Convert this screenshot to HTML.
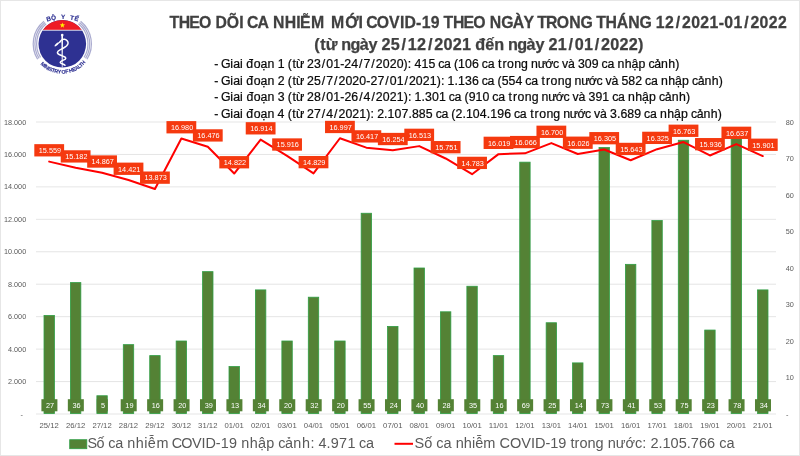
<!DOCTYPE html>
<html lang="vi"><head><meta charset="utf-8"><title>Theo dõi ca nhiễm mới COVID-19</title>
<style>html,body{margin:0;padding:0;background:#fff;}body{width:800px;height:456px;overflow:hidden;}svg{display:block;}text{font-family:"Liberation Sans", sans-serif;}</style></head><body>
<svg width="800" height="456" viewBox="0 0 800 456">
<rect x="0" y="0" width="800" height="456" fill="#fff"/>
<path d="M0,0H800V456H0Z M1,1V455H799V1Z" fill="#e6e6e6" fill-rule="evenodd"/>
<g stroke="#dedede" stroke-width="0.8">
<line x1="36.0" y1="414.00" x2="776.0" y2="414.00"/>
<line x1="36.0" y1="381.56" x2="776.0" y2="381.56"/>
<line x1="36.0" y1="349.11" x2="776.0" y2="349.11"/>
<line x1="36.0" y1="316.67" x2="776.0" y2="316.67"/>
<line x1="36.0" y1="284.22" x2="776.0" y2="284.22"/>
<line x1="36.0" y1="251.78" x2="776.0" y2="251.78"/>
<line x1="36.0" y1="219.33" x2="776.0" y2="219.33"/>
<line x1="36.0" y1="186.89" x2="776.0" y2="186.89"/>
<line x1="36.0" y1="154.44" x2="776.0" y2="154.44"/>
<line x1="36.0" y1="122.00" x2="776.0" y2="122.00"/>
</g>
<g font-size="7.3" fill="#5a5a5a" text-anchor="end">
<text x="26.2" y="384.16" textLength="18.2" lengthAdjust="spacingAndGlyphs">2.000</text>
<text x="26.2" y="351.71" textLength="18.2" lengthAdjust="spacingAndGlyphs">4.000</text>
<text x="26.2" y="319.27" textLength="18.2" lengthAdjust="spacingAndGlyphs">6.000</text>
<text x="26.2" y="286.82" textLength="18.2" lengthAdjust="spacingAndGlyphs">8.000</text>
<text x="26.2" y="254.38" textLength="22.2" lengthAdjust="spacingAndGlyphs">10.000</text>
<text x="26.2" y="221.93" textLength="22.2" lengthAdjust="spacingAndGlyphs">12.000</text>
<text x="26.2" y="189.49" textLength="22.2" lengthAdjust="spacingAndGlyphs">14.000</text>
<text x="26.2" y="157.04" textLength="22.2" lengthAdjust="spacingAndGlyphs">16.000</text>
<text x="26.2" y="124.60" textLength="22.2" lengthAdjust="spacingAndGlyphs">18.000</text>
<text x="23" y="416.70">-</text>
</g>
<g font-size="7.3" fill="#5a5a5a" text-anchor="start">
<text x="785.7" y="380.10">10</text>
<text x="785.7" y="343.60">20</text>
<text x="785.7" y="307.10">30</text>
<text x="785.7" y="270.60">40</text>
<text x="785.7" y="234.10">50</text>
<text x="785.7" y="197.60">60</text>
<text x="785.7" y="161.10">70</text>
<text x="785.7" y="124.60">80</text>
<text x="786" y="416.70">-</text>
</g>
<g fill="#548235" stroke="#2f9e44" stroke-width="0.8">
<rect x="44.01" y="315.45" width="10.40" height="98.05"/>
<rect x="70.44" y="282.60" width="10.40" height="130.90"/>
<rect x="96.87" y="395.75" width="10.40" height="17.75"/>
<rect x="123.30" y="344.65" width="10.40" height="68.85"/>
<rect x="149.73" y="355.60" width="10.40" height="57.90"/>
<rect x="176.16" y="341.00" width="10.40" height="72.50"/>
<rect x="202.59" y="271.65" width="10.40" height="141.85"/>
<rect x="229.01" y="366.55" width="10.40" height="46.95"/>
<rect x="255.44" y="289.90" width="10.40" height="123.60"/>
<rect x="281.87" y="341.00" width="10.40" height="72.50"/>
<rect x="308.30" y="297.20" width="10.40" height="116.30"/>
<rect x="334.73" y="341.00" width="10.40" height="72.50"/>
<rect x="361.16" y="213.25" width="10.40" height="200.25"/>
<rect x="387.59" y="326.40" width="10.40" height="87.10"/>
<rect x="414.01" y="268.00" width="10.40" height="145.50"/>
<rect x="440.44" y="311.80" width="10.40" height="101.70"/>
<rect x="466.87" y="286.25" width="10.40" height="127.25"/>
<rect x="493.30" y="355.60" width="10.40" height="57.90"/>
<rect x="519.73" y="162.15" width="10.40" height="251.35"/>
<rect x="546.16" y="322.75" width="10.40" height="90.75"/>
<rect x="572.59" y="362.90" width="10.40" height="50.60"/>
<rect x="599.01" y="147.55" width="10.40" height="265.95"/>
<rect x="625.44" y="264.35" width="10.40" height="149.15"/>
<rect x="651.87" y="220.55" width="10.40" height="192.95"/>
<rect x="678.30" y="140.25" width="10.40" height="273.25"/>
<rect x="704.73" y="330.05" width="10.40" height="83.45"/>
<rect x="731.16" y="129.30" width="10.40" height="284.20"/>
<rect x="757.59" y="289.90" width="10.40" height="123.60"/>
</g>
<g>
<rect x="41.41" y="399.2" width="16.0" height="12.1" fill="#548235"/>
<rect x="67.84" y="399.2" width="16.0" height="12.1" fill="#548235"/>
<rect x="96.77" y="399.2" width="11.0" height="12.1" fill="#548235"/>
<rect x="120.70" y="399.2" width="16.0" height="12.1" fill="#548235"/>
<rect x="147.13" y="399.2" width="16.0" height="12.1" fill="#548235"/>
<rect x="173.56" y="399.2" width="16.0" height="12.1" fill="#548235"/>
<rect x="199.99" y="399.2" width="16.0" height="12.1" fill="#548235"/>
<rect x="226.41" y="399.2" width="16.0" height="12.1" fill="#548235"/>
<rect x="252.84" y="399.2" width="16.0" height="12.1" fill="#548235"/>
<rect x="279.27" y="399.2" width="16.0" height="12.1" fill="#548235"/>
<rect x="305.70" y="399.2" width="16.0" height="12.1" fill="#548235"/>
<rect x="332.13" y="399.2" width="16.0" height="12.1" fill="#548235"/>
<rect x="358.56" y="399.2" width="16.0" height="12.1" fill="#548235"/>
<rect x="384.99" y="399.2" width="16.0" height="12.1" fill="#548235"/>
<rect x="411.41" y="399.2" width="16.0" height="12.1" fill="#548235"/>
<rect x="437.84" y="399.2" width="16.0" height="12.1" fill="#548235"/>
<rect x="464.27" y="399.2" width="16.0" height="12.1" fill="#548235"/>
<rect x="490.70" y="399.2" width="16.0" height="12.1" fill="#548235"/>
<rect x="517.13" y="399.2" width="16.0" height="12.1" fill="#548235"/>
<rect x="543.56" y="399.2" width="16.0" height="12.1" fill="#548235"/>
<rect x="569.99" y="399.2" width="16.0" height="12.1" fill="#548235"/>
<rect x="596.41" y="399.2" width="16.0" height="12.1" fill="#548235"/>
<rect x="622.84" y="399.2" width="16.0" height="12.1" fill="#548235"/>
<rect x="649.27" y="399.2" width="16.0" height="12.1" fill="#548235"/>
<rect x="675.70" y="399.2" width="16.0" height="12.1" fill="#548235"/>
<rect x="702.13" y="399.2" width="16.0" height="12.1" fill="#548235"/>
<rect x="728.56" y="399.2" width="16.0" height="12.1" fill="#548235"/>
<rect x="754.99" y="399.2" width="16.0" height="12.1" fill="#548235"/>
</g>
<g font-size="7.3" fill="#ffffff" text-anchor="middle">
<text x="50.11" y="408.2">27</text>
<text x="76.54" y="408.2">36</text>
<text x="102.97" y="408.2">5</text>
<text x="129.40" y="408.2">19</text>
<text x="155.83" y="408.2">16</text>
<text x="182.26" y="408.2">20</text>
<text x="208.69" y="408.2">39</text>
<text x="235.11" y="408.2">13</text>
<text x="261.54" y="408.2">34</text>
<text x="287.97" y="408.2">20</text>
<text x="314.40" y="408.2">32</text>
<text x="340.83" y="408.2">20</text>
<text x="367.26" y="408.2">55</text>
<text x="393.69" y="408.2">24</text>
<text x="420.11" y="408.2">40</text>
<text x="446.54" y="408.2">28</text>
<text x="472.97" y="408.2">35</text>
<text x="499.40" y="408.2">16</text>
<text x="525.83" y="408.2">69</text>
<text x="552.26" y="408.2">25</text>
<text x="578.69" y="408.2">14</text>
<text x="605.11" y="408.2">73</text>
<text x="631.54" y="408.2">41</text>
<text x="657.97" y="408.2">53</text>
<text x="684.40" y="408.2">75</text>
<text x="710.83" y="408.2">23</text>
<text x="737.26" y="408.2">78</text>
<text x="763.69" y="408.2">34</text>
</g>
<g font-size="7.6" fill="#5a5a5a" text-anchor="middle">
<text x="49.21" y="427.7" textLength="19.3" lengthAdjust="spacingAndGlyphs">25/12</text>
<text x="75.64" y="427.7" textLength="19.3" lengthAdjust="spacingAndGlyphs">26/12</text>
<text x="102.07" y="427.7" textLength="19.3" lengthAdjust="spacingAndGlyphs">27/12</text>
<text x="128.50" y="427.7" textLength="19.3" lengthAdjust="spacingAndGlyphs">28/12</text>
<text x="154.93" y="427.7" textLength="19.3" lengthAdjust="spacingAndGlyphs">29/12</text>
<text x="181.36" y="427.7" textLength="19.3" lengthAdjust="spacingAndGlyphs">30/12</text>
<text x="207.79" y="427.7" textLength="19.3" lengthAdjust="spacingAndGlyphs">31/12</text>
<text x="234.21" y="427.7" textLength="19.3" lengthAdjust="spacingAndGlyphs">01/01</text>
<text x="260.64" y="427.7" textLength="19.3" lengthAdjust="spacingAndGlyphs">02/01</text>
<text x="287.07" y="427.7" textLength="19.3" lengthAdjust="spacingAndGlyphs">03/01</text>
<text x="313.50" y="427.7" textLength="19.3" lengthAdjust="spacingAndGlyphs">04/01</text>
<text x="339.93" y="427.7" textLength="19.3" lengthAdjust="spacingAndGlyphs">05/01</text>
<text x="366.36" y="427.7" textLength="19.3" lengthAdjust="spacingAndGlyphs">06/01</text>
<text x="392.79" y="427.7" textLength="19.3" lengthAdjust="spacingAndGlyphs">07/01</text>
<text x="419.21" y="427.7" textLength="19.3" lengthAdjust="spacingAndGlyphs">08/01</text>
<text x="445.64" y="427.7" textLength="19.3" lengthAdjust="spacingAndGlyphs">09/01</text>
<text x="472.07" y="427.7" textLength="19.3" lengthAdjust="spacingAndGlyphs">10/01</text>
<text x="498.50" y="427.7" textLength="19.3" lengthAdjust="spacingAndGlyphs">11/01</text>
<text x="524.93" y="427.7" textLength="19.3" lengthAdjust="spacingAndGlyphs">12/01</text>
<text x="551.36" y="427.7" textLength="19.3" lengthAdjust="spacingAndGlyphs">13/01</text>
<text x="577.79" y="427.7" textLength="19.3" lengthAdjust="spacingAndGlyphs">14/01</text>
<text x="604.21" y="427.7" textLength="19.3" lengthAdjust="spacingAndGlyphs">15/01</text>
<text x="630.64" y="427.7" textLength="19.3" lengthAdjust="spacingAndGlyphs">16/01</text>
<text x="657.07" y="427.7" textLength="19.3" lengthAdjust="spacingAndGlyphs">17/01</text>
<text x="683.50" y="427.7" textLength="19.3" lengthAdjust="spacingAndGlyphs">18/01</text>
<text x="709.93" y="427.7" textLength="19.3" lengthAdjust="spacingAndGlyphs">19/01</text>
<text x="736.36" y="427.7" textLength="19.3" lengthAdjust="spacingAndGlyphs">20/01</text>
<text x="762.79" y="427.7" textLength="19.3" lengthAdjust="spacingAndGlyphs">21/01</text>
</g>
<polyline points="49.21,161.60 75.64,167.71 102.07,172.82 128.50,180.06 154.93,188.95 181.36,138.55 207.79,146.72 234.21,173.55 260.64,139.62 287.07,155.81 313.50,173.44 339.93,138.27 366.36,147.68 392.79,150.32 419.21,146.12 445.64,158.48 472.07,174.19 498.50,154.14 524.93,153.37 551.36,143.09 577.79,154.02 604.21,149.50 630.64,160.24 657.07,149.17 683.50,142.07 709.93,155.48 736.36,144.11 762.79,156.05" fill="none" stroke="#ff0000" stroke-width="2" stroke-linejoin="round" stroke-linecap="round"/>
<rect x="34.31" y="144.15" width="29.8" height="12.3" fill="#f5390f"/>
<text x="49.91" y="153.10" font-size="7.3" fill="#fff" text-anchor="middle">15.559</text>
<rect x="60.74" y="150.26" width="29.8" height="12.3" fill="#f5390f"/>
<text x="76.34" y="159.21" font-size="7.3" fill="#fff" text-anchor="middle">15.182</text>
<rect x="87.17" y="155.37" width="29.8" height="12.3" fill="#f5390f"/>
<text x="102.77" y="164.32" font-size="7.3" fill="#fff" text-anchor="middle">14.867</text>
<rect x="113.60" y="162.61" width="29.8" height="12.3" fill="#f5390f"/>
<text x="129.20" y="171.56" font-size="7.3" fill="#fff" text-anchor="middle">14.421</text>
<rect x="140.03" y="171.50" width="29.8" height="12.3" fill="#f5390f"/>
<text x="155.63" y="180.45" font-size="7.3" fill="#fff" text-anchor="middle">13.873</text>
<rect x="166.46" y="121.10" width="29.8" height="12.3" fill="#f5390f"/>
<text x="182.06" y="130.05" font-size="7.3" fill="#fff" text-anchor="middle">16.980</text>
<rect x="192.89" y="129.27" width="29.8" height="12.3" fill="#f5390f"/>
<text x="208.49" y="138.22" font-size="7.3" fill="#fff" text-anchor="middle">16.476</text>
<rect x="219.31" y="156.10" width="29.8" height="12.3" fill="#f5390f"/>
<text x="234.91" y="165.05" font-size="7.3" fill="#fff" text-anchor="middle">14.822</text>
<rect x="245.74" y="122.17" width="29.8" height="12.3" fill="#f5390f"/>
<text x="261.34" y="131.12" font-size="7.3" fill="#fff" text-anchor="middle">16.914</text>
<rect x="272.17" y="138.36" width="29.8" height="12.3" fill="#f5390f"/>
<text x="287.77" y="147.31" font-size="7.3" fill="#fff" text-anchor="middle">15.916</text>
<rect x="298.60" y="155.99" width="29.8" height="12.3" fill="#f5390f"/>
<text x="314.20" y="164.94" font-size="7.3" fill="#fff" text-anchor="middle">14.829</text>
<rect x="325.03" y="120.82" width="29.8" height="12.3" fill="#f5390f"/>
<text x="340.63" y="129.77" font-size="7.3" fill="#fff" text-anchor="middle">16.997</text>
<rect x="351.46" y="130.23" width="29.8" height="12.3" fill="#f5390f"/>
<text x="367.06" y="139.18" font-size="7.3" fill="#fff" text-anchor="middle">16.417</text>
<rect x="377.89" y="132.87" width="29.8" height="12.3" fill="#f5390f"/>
<text x="393.49" y="141.82" font-size="7.3" fill="#fff" text-anchor="middle">16.254</text>
<rect x="404.31" y="128.67" width="29.8" height="12.3" fill="#f5390f"/>
<text x="419.91" y="137.62" font-size="7.3" fill="#fff" text-anchor="middle">16.513</text>
<rect x="430.74" y="141.03" width="29.8" height="12.3" fill="#f5390f"/>
<text x="446.34" y="149.98" font-size="7.3" fill="#fff" text-anchor="middle">15.751</text>
<rect x="457.17" y="156.74" width="29.8" height="12.3" fill="#f5390f"/>
<text x="472.77" y="165.69" font-size="7.3" fill="#fff" text-anchor="middle">14.783</text>
<rect x="483.60" y="136.69" width="29.8" height="12.3" fill="#f5390f"/>
<text x="499.20" y="145.64" font-size="7.3" fill="#fff" text-anchor="middle">16.019</text>
<rect x="510.03" y="135.92" width="29.8" height="12.3" fill="#f5390f"/>
<text x="525.63" y="144.87" font-size="7.3" fill="#fff" text-anchor="middle">16.066</text>
<rect x="536.46" y="125.64" width="29.8" height="12.3" fill="#f5390f"/>
<text x="552.06" y="134.59" font-size="7.3" fill="#fff" text-anchor="middle">16.700</text>
<rect x="562.89" y="136.57" width="29.8" height="12.3" fill="#f5390f"/>
<text x="578.49" y="145.52" font-size="7.3" fill="#fff" text-anchor="middle">16.026</text>
<rect x="589.31" y="132.05" width="29.8" height="12.3" fill="#f5390f"/>
<text x="604.91" y="141.00" font-size="7.3" fill="#fff" text-anchor="middle">16.305</text>
<rect x="615.74" y="142.79" width="29.8" height="12.3" fill="#f5390f"/>
<text x="631.34" y="151.74" font-size="7.3" fill="#fff" text-anchor="middle">15.643</text>
<rect x="642.17" y="131.72" width="29.8" height="12.3" fill="#f5390f"/>
<text x="657.77" y="140.67" font-size="7.3" fill="#fff" text-anchor="middle">16.325</text>
<rect x="668.60" y="124.62" width="29.8" height="12.3" fill="#f5390f"/>
<text x="684.20" y="133.57" font-size="7.3" fill="#fff" text-anchor="middle">16.763</text>
<rect x="695.03" y="138.03" width="29.8" height="12.3" fill="#f5390f"/>
<text x="710.63" y="146.98" font-size="7.3" fill="#fff" text-anchor="middle">15.936</text>
<rect x="721.46" y="126.66" width="29.8" height="12.3" fill="#f5390f"/>
<text x="737.06" y="135.61" font-size="7.3" fill="#fff" text-anchor="middle">16.637</text>
<rect x="747.89" y="138.60" width="29.8" height="12.3" fill="#f5390f"/>
<text x="763.49" y="147.55" font-size="7.3" fill="#fff" text-anchor="middle">15.901</text>
<text y="27.75" font-size="16.20" font-weight="bold" fill="#404040" stroke="#404040" stroke-width="0.25" transform="scale(0.9776,1)"><tspan x="173.34 182.88 193.70 203.60">THEO</tspan> <tspan x="220.35 232.02 244.81">DÕI</tspan> <tspan x="252.78 263.30">CA</tspan> <tspan x="279.22 291.18 303.09 306.94 318.22">NHIỄM</tspan> <tspan x="338.62 353.11 366.78">MỚI</tspan> <tspan x="374.75 385.47 398.04 409.07 413.79 425.63 431.36 440.75">COVID-19</tspan> <tspan x="453.80 463.34 474.15 484.05">THEO</tspan> <tspan x="501.08 512.64 524.62 535.50">NGÀY</tspan> <tspan x="549.57 558.48 569.52 582.35 593.91">TRONG</tspan> <tspan x="609.96 619.50 630.96 642.69 654.25">THÁNG</tspan> <tspan x="670.84 680.24 691.18 697.61 707.01 716.40 725.80 735.15 740.88 750.28 761.21 767.64 777.04 786.44 795.84">12/2021-01/2022</tspan></text>
<text y="50.00" font-size="16.20" font-weight="bold" fill="#404040" stroke="#404040" stroke-width="0.25"><tspan x="314.15 320.15 325.70">(từ</tspan> <tspan x="341.20 350.41 359.67 368.49">ngày</tspan> <tspan x="381.55 390.78 401.57 407.85 417.09 427.88 434.16 443.40 452.64 461.88">25/12/2021</tspan> <tspan x="475.16 485.17 494.20">đến</tspan> <tspan x="508.11 517.32 526.59 535.40">ngày</tspan> <tspan x="548.46 557.70 568.49 574.77 584.01 594.80 601.08 610.31 619.55 628.79 638.06">21/01/2022)</tspan></text>
<text y="68.00" font-size="12.30" fill="#0a0a0a" stroke="#0a0a0a" stroke-width="0.22"><tspan x="214.25">-</tspan> <tspan x="221.04 230.36 233.17 240.08">Giai</tspan> <tspan x="246.37 253.66 260.56 267.45">đoạn</tspan> <tspan x="277.63">1</tspan> <tspan x="287.66 292.38 296.01">(từ</tspan> <tspan x="307.02 313.97 321.81 326.22 333.18 340.13 344.33 351.28 359.12 363.53 371.37 375.78 382.74 389.69 396.64 403.57 407.83">23/01-24/7/2020):</tspan> <tspan x="414.53 421.48 428.43">415</tspan> <tspan x="438.26 444.10">ca</tspan> <tspan x="453.94 458.12 465.07 472.02">(106</tspan> <tspan x="481.85 487.69">ca</tspan> <tspan x="498.08 502.43 507.07 514.29 521.12">trong</tspan> <tspan x="531.06 537.70 545.27 552.88">nước</tspan> <tspan x="561.98 568.02">và</tspan> <tspan x="577.88 584.84 591.79">309</tspan> <tspan x="601.61 607.45">ca</tspan> <tspan x="617.44 624.65 631.54 638.43">nhập</tspan> <tspan x="648.38 654.22 661.11 668.32 675.37">cảnh)</tspan></text>
<text y="84.70" font-size="12.30" fill="#0a0a0a" stroke="#0a0a0a" stroke-width="0.22"><tspan x="214.25">-</tspan> <tspan x="221.04 230.36 233.17 240.08">Giai</tspan> <tspan x="246.37 253.66 260.56 267.45">đoạn</tspan> <tspan x="277.63">2</tspan> <tspan x="287.66 292.38 296.00">(từ</tspan> <tspan x="307.02 313.97 321.80 326.22 334.06 338.47 345.42 352.37 359.33 366.27 370.48 377.43 385.27 389.68 396.63 404.47 408.88 415.84 422.79 429.74 436.67 440.92">25/7/2020-27/01/2021):</tspan> <tspan x="447.62 454.54 458.04 464.99 471.94">1.136</tspan> <tspan x="481.77 487.61">ca</tspan> <tspan x="497.45 501.63 508.58 515.53">(554</tspan> <tspan x="525.36 531.20">ca</tspan> <tspan x="541.59 545.94 550.58 557.80 564.63">trong</tspan> <tspan x="574.56 581.21 588.78 596.39">nước</tspan> <tspan x="605.49 611.53">và</tspan> <tspan x="621.39 628.34 635.29">582</tspan> <tspan x="645.12 650.96">ca</tspan> <tspan x="660.95 668.15 675.04 681.93">nhập</tspan> <tspan x="691.88 697.72 704.61 711.82 718.87">cảnh)</tspan></text>
<text y="101.30" font-size="12.30" fill="#0a0a0a" stroke="#0a0a0a" stroke-width="0.22"><tspan x="214.25">-</tspan> <tspan x="221.05 230.37 233.18 240.09">Giai</tspan> <tspan x="246.39 253.68 260.58 267.48">đoạn</tspan> <tspan x="277.66">3</tspan> <tspan x="287.69 292.41 296.04">(từ</tspan> <tspan x="307.06 314.01 321.85 326.27 333.22 340.17 344.38 351.34 359.18 363.59 371.43 375.85 382.80 389.76 396.71 403.65 407.90">28/01-26/4/2021):</tspan> <tspan x="414.61 421.53 425.03 431.98 438.94">1.301</tspan> <tspan x="448.76 454.61">ca</tspan> <tspan x="464.45 468.63 475.59 482.55">(910</tspan> <tspan x="492.37 498.22">ca</tspan> <tspan x="508.61 512.97 517.60 524.83 531.66">trong</tspan> <tspan x="541.60 548.25 555.82 563.43">nước</tspan> <tspan x="572.54 578.58">và</tspan> <tspan x="588.45 595.40 602.36">391</tspan> <tspan x="612.18 618.03">ca</tspan> <tspan x="628.02 635.23 642.12 649.01">nhập</tspan> <tspan x="658.97 664.81 671.70 678.91 685.97">cảnh)</tspan></text>
<text y="118.00" font-size="12.30" fill="#0a0a0a" stroke="#0a0a0a" stroke-width="0.22"><tspan x="214.25">-</tspan> <tspan x="221.04 230.36 233.16 240.08">Giai</tspan> <tspan x="246.37 253.65 260.56 267.44">đoạn</tspan> <tspan x="277.62">4</tspan> <tspan x="287.65 292.37 295.99">(từ</tspan> <tspan x="307.00 313.96 321.79 326.21 334.04 338.45 345.41 352.36 359.31 366.24 370.49">27/4/2021):</tspan> <tspan x="377.19 384.11 387.61 394.56 401.51 408.43 411.92 418.87 425.83">2.107.885</tspan> <tspan x="435.65 441.49">ca</tspan> <tspan x="451.32 455.51 462.43 465.92 472.87 479.83 486.74 490.24 497.19 504.14">(2.104.196</tspan> <tspan x="513.96 519.80">ca</tspan> <tspan x="530.20 534.55 539.18 546.40 553.23">trong</tspan> <tspan x="563.16 569.81 577.38 584.99">nước</tspan> <tspan x="594.09 600.12">và</tspan> <tspan x="609.98 616.90 620.40 627.35 634.30">3.689</tspan> <tspan x="644.12 649.96">ca</tspan> <tspan x="659.95 667.16 674.05 680.93">nhập</tspan> <tspan x="690.88 696.72 703.61 710.82 717.87">cảnh)</tspan></text>
<rect x="69.7" y="439.7" width="17.1" height="9.0" fill="#548235" stroke="#2f9e44" stroke-width="0.8"/>
<text y="448.30" font-size="14.90" fill="#595959" transform="scale(0.9679,1)"><tspan x="90.45 99.61">Số</tspan> <tspan x="111.87 119.07">ca</tspan> <tspan x="131.38 140.25 149.12 152.77 161.66">nhiễm</tspan> <tspan x="177.55 187.23 198.45 208.27 212.28 222.96 228.17 236.73">COVID-19</tspan> <tspan x="249.27 258.14 266.63 275.11">nhập</tspan> <tspan x="287.36 294.56 303.04 311.91 320.69">cảnh:</tspan> <tspan x="328.97 337.46 341.80 350.36 358.92">4.971</tspan> <tspan x="371.01 378.21">ca</tspan></text>
<line x1="394.5" y1="443.8" x2="413" y2="443.8" stroke="#ff0000" stroke-width="2"/>
<text x="414.5" y="448.3" font-size="14.7" fill="#595959" textLength="320" lengthAdjust="spacingAndGlyphs">Số ca nhiễm COVID-19 trong nước: 2.105.766 ca</text>
<g id="logo">
<g fill="none" stroke="#abacd0" stroke-width="1.25">
<path d="M40.51,57.42 A25.70,25.70 0 0 1 46.13,23.83"/>
<path d="M78.47,23.83 A25.70,25.70 0 0 1 84.09,57.42"/>
<path d="M39.06,58.32 A27.40,27.40 0 0 1 45.06,22.51"/>
<path d="M79.54,22.51 A27.40,27.40 0 0 1 85.54,58.32"/>
<path d="M37.62,59.22 A29.10,29.10 0 0 1 43.99,21.19"/>
<path d="M80.61,21.19 A29.10,29.10 0 0 1 86.98,59.22"/>
</g>
<circle cx="62.30" cy="43.80" r="23.80" fill="#2e3192"/>
<path d="M42.98,29.90 A23.80,23.80 0 0 1 81.62,29.90 Z" fill="#ee1c25"/>
<rect x="42.48" y="29.80" width="39.64" height="0.8" fill="#fff"/>
<polygon points="62.40,22.40 63.08,24.37 65.16,24.40 63.49,25.66 64.10,27.65 62.40,26.45 60.70,27.65 61.31,25.66 59.64,24.40 61.72,24.37" fill="#fff200"/>
<polygon points="61.35,35.6 63.05,35.6 62.55,67.4 61.85,67.4" fill="#fff"/>
<path d="M59.6,42.4 C60.4,40.6 62.6,38.9 64.6,39.3 C67.0,39.8 68.4,41.8 68.0,43.6 C67.4,46.6 64.0,47.6 62.2,48.7 C60.0,50.0 57.4,50.6 57.4,52.4 C57.4,54.4 60.4,55.0 62.2,55.9 C64.0,56.8 65.8,57.0 65.8,58.2 C65.8,59.6 63.6,59.9 62.2,60.6 C61.0,61.2 60.2,61.6 60.2,62.4 C60.2,63.6 63.4,63.6 65.0,65.2" fill="none" stroke="#fff" stroke-width="1.5" stroke-linecap="round" stroke-linejoin="round"/>
<ellipse cx="56.9" cy="44.3" rx="3.0" ry="1.0" fill="#fff" transform="rotate(-40 56.9 44.3)"/>
<circle cx="62.2" cy="35.1" r="1.3" fill="#fff"/>
<defs>
<path id="arcTop" d="M37.3,25.87 A50,50 0 0 1 87.9,25.87"/>
<path id="arcBot" d="M34.58,55.00 A29.90,29.90 0 0 0 90.74,53.04"/>
</defs>
<text font-size="6.3" font-weight="bold" fill="#2e3192" stroke="#2e3192" stroke-width="0.15" text-anchor="middle" letter-spacing="0.3" word-spacing="2.3"><textPath href="#arcTop" startOffset="50%">BỘ Y TẾ</textPath></text>
<text font-size="5.3" font-weight="bold" fill="#2e3192" stroke="#2e3192" stroke-width="0.12" text-anchor="middle" letter-spacing="-0.3"><textPath href="#arcBot" startOffset="50%">MINISTRY OF HEALTH</textPath></text>
</g>
</svg></body></html>
